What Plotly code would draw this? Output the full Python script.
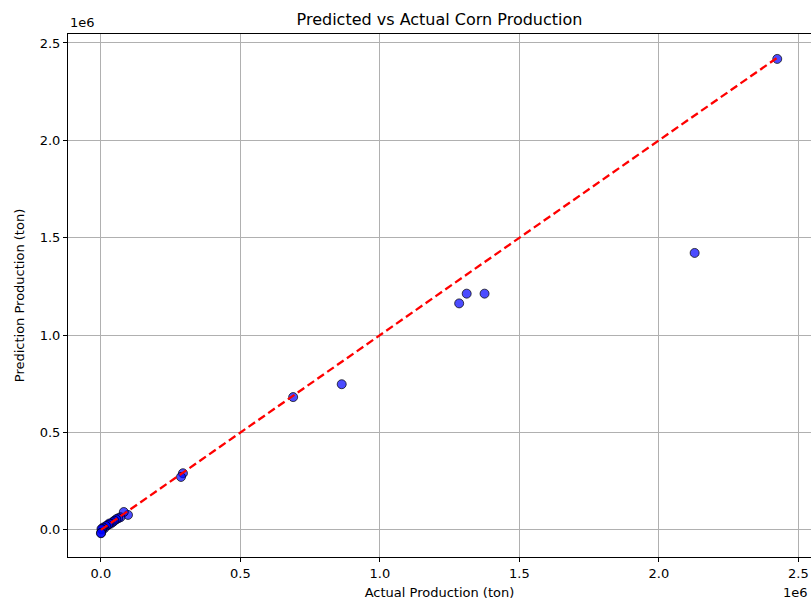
import plotly.graph_objects as go

# Actual vs predicted corn production (tons)
actual = [2424000, 2128000, 1375000, 1311000, 1284000, 863000, 689000,
          294000, 287000, 97000, 82000, 70000, 62000, 55000, 48000, 42000,
          35000, 30000, 25000, 18000, 12000, 8000, 4000, 2000, 1000, 0]
predicted = [2418000, 1422000, 1213000, 1213000, 1163000, 748000, 682000,
             291000, 272000, 77000, 92000, 65000, 60000, 55000, 47000, 40000,
             32000, 33000, 25000, 20000, 8000, 12000, 2000, 5000, -15000, -17000]

tick_vals = [0, 500000, 1000000, 1500000, 2000000, 2500000]
tick_text = ["0.0", "0.5", "1.0", "1.5", "2.0", "2.5"]

line_min = min(actual)
line_max = max(actual)

FONT = "DejaVu Sans"

fig = go.Figure()
fig.add_trace(go.Scatter(
    x=actual, y=predicted, mode="markers",
    marker=dict(size=9, color="rgba(0,0,255,0.7)",
                line=dict(color="rgba(0,0,0,0.7)", width=1)),
    showlegend=False,
))
fig.add_trace(go.Scatter(
    x=[line_min, line_max], y=[line_min, line_max], mode="lines",
    line=dict(color="red", width=2.3, dash="8px,4px"),
    showlegend=False,
))

axis_common = dict(
    tickvals=tick_vals, ticktext=tick_text,
    showgrid=True, gridcolor="#b0b0b0", gridwidth=1,
    showline=True, linecolor="black", linewidth=1, mirror=True,
    ticks="outside", ticklen=4, tickcolor="black", tickwidth=1,
    zeroline=False,
    tickfont=dict(family=FONT, size=13, color="black"),
)

fig.update_layout(
    width=811, height=600,
    margin=dict(l=68, r=0, t=34, b=43),
    paper_bgcolor="white", plot_bgcolor="white",
    font=dict(family=FONT, color="black"),
    title=dict(text="Predicted vs Actual Corn Production",
               x=0.5, xanchor="center", xref="paper",
               y=1 - 19 / 600, yanchor="middle",
               font=dict(family=FONT, size=16, color="black")),
    xaxis=dict(axis_common, range=[-118000, 2545000],
               title=dict(text="Actual Production (ton)", standoff=8,
                          font=dict(family=FONT, size=13, color="black"))),
    yaxis=dict(axis_common, range=[-139000, 2546000],
               title=dict(text="Prediction Production (ton)", standoff=12,
                          font=dict(family=FONT, size=13, color="black"))),
    annotations=[
        dict(text="1e6", xref="paper", yref="paper", x=0, y=1,
             xanchor="left", yanchor="bottom", yshift=2, showarrow=False,
             font=dict(family=FONT, size=13, color="black")),
        dict(text="1e6", xref="paper", yref="paper", x=0.979, y=0,
             xanchor="center", yanchor="top", yshift=-26, showarrow=False,
             font=dict(family=FONT, size=13, color="black")),
    ],
)

fig.write_html("out.html")
